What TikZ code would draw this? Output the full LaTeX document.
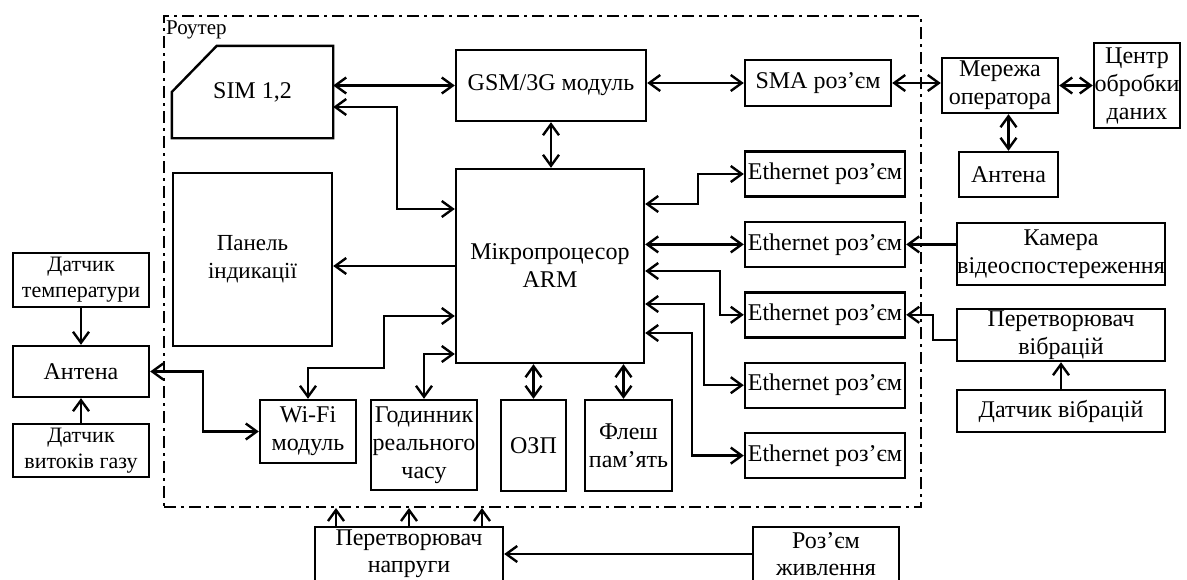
\documentclass[tikz,border=0pt]{standalone}
\usepackage{fontspec}
\setmainfont{Liberation Serif}
\usetikzlibrary{arrows.meta,positioning}
\tikzset{rozmir/.style n args={2}{minimum width=#1pt, minimum height=#2pt}}

\begin{document}
\begin{tikzpicture}[x=1pt, y=-1pt,
            node distance=23pt,
            blok/.style={draw, line width=2.4pt, inner sep=0pt, align=center, font=\fontsize{24}{28}\selectfont},
            ramka/.style={draw, line width=2pt, dash pattern=on 12pt off 5pt on 3pt off 5pt, inner sep=0pt},
            strilka/.style={-{Straight Barb[length=11pt,width=16pt]}, line width=2.4pt},
            dvi/.style={{Straight Barb[length=11pt,width=16pt]}-{Straight Barb[length=11pt,width=16pt]}, line width=2.4pt}
        ]
\useasboundingbox (0,0) rectangle (1187,579);

% рамка роутера
\node[ramka, rozmir={757}{491}] (router) at (542.5,261.5) {};
\node[anchor=north west, inner sep=0pt, font=\fontsize{21}{24}\selectfont] (routerlbl) at (166,21) {Роутер};

\node[blok, draw=none, rozmir={159}{90}] (sim) at (252.5,92) {SIM 1,2};
\draw[line width=2.4pt] (sim.south west) -- (sim.west) -- ([xshift=45pt]sim.north west) -- (sim.north east) -- (sim.south east) -- cycle;
\node[blok, rozmir={190}{71}] (gsm) at (551,85.5) {GSM/3G модуль};
\node[blok, rozmir={146}{46}] (sma) at (818,83) {SMA роз’єм};
\node[blok, rozmir={116}{55}] (merezha) at (1000,85.5) {Мережа\\оператора};
\node[blok, rozmir={86}{85}] (centr) at (1137,85.5) {Центр\\обробки\\даних};
\node[blok, rozmir={99}{45}] (antenaR) at (1008.5,174.5) {Антена};

\node[blok, rozmir={188}{194}] (arm) at (550,266) {Мікропроцесор\\ARM};
\node[blok, rozmir={159}{173}, font=\fontsize{23}{28}\selectfont] (panel) at (252.5,259.5) {Панель\\індикації};
\node[blok, rozmir={96}{63}] (wifi) at (308,431.5) {Wi-Fi\\модуль};
\node[blok, rozmir={106}{90}] (godynnyk) at (424,445) {Годинник\\реального\\часу};
\node[blok, rozmir={65}{91}] (ozp) at (533.5,445.5) {ОЗП};
\node[blok, rozmir={87}{91}] (flesh) at (628.5,445.5) {Флеш\\пам’ять};

\node[blok, rozmir={160}{45}] (eth1) at (825,174) {Ethernet роз’єм};
\node[blok, rozmir={160}{45}, below=of eth1] (eth2) {Ethernet роз’єм};
\node[blok, rozmir={160}{45}, below=of eth2] (eth3) {Ethernet роз’єм};
\node[blok, rozmir={160}{45}, below=of eth3] (eth4) {Ethernet роз’єм};
\node[blok, rozmir={160}{45}, below=of eth4] (eth5) {Ethernet роз’єм};

\node[blok, rozmir={208}{62}] (kamera) at (1061,254) {Камера\\відеоспостереження};
\node[blok, rozmir={208}{52}] (pvibr) at (1061,335) {Перетворювач\\вібрацій};
\node[blok, rozmir={208}{42}] (dvibr) at (1061,411) {Датчик вібрацій};

\node[blok, rozmir={136}{51}] (antenaL) at (81,371.5) {Антена};
\node[blok, rozmir={136}{54}, font=\fontsize{22}{26}\selectfont] (dtemp) at (81,280) {Датчик\\температури};
\node[blok, rozmir={136}{53}, font=\fontsize{22}{26}\selectfont] (dgaz) at (81,450.5) {Датчик\\витоків газу};

\node[blok, rozmir={188}{54}, font=\fontsize{24}{27}\selectfont] (pnapr) at (409,554) {Перетворювач\\напруги};
\node[blok, rozmir={146}{54}, font=\fontsize{24}{27}\selectfont] (rozem) at (826,554) {Роз’єм\\живлення};

% зв'язки
\draw[dvi] (sim.east |- gsm.west) -- (gsm.west);
\draw[dvi] (gsm.east |- sma.west) -- (sma.west);
\draw[dvi] (sma.east) -- (merezha.west |- sma.east);
\draw[dvi] (merezha.east) -- (centr.west |- merezha.east);
\draw[dvi] (antenaR.north |- merezha.south) -- (antenaR.north);
\draw[dvi] (gsm.south) -- (gsm.south |- arm.north);
\draw[dvi] ([yshift=-15pt]sim.east) -- ++(64,0) |- ([yshift=57pt]arm.west);
\draw[strilka] (arm.west) -- (arm.west -| panel.east);
\draw[dvi] ([yshift=-50pt]arm.west) -- ++(-71,0) -- ++(0,52) -| (wifi.north);
\draw[dvi] ([yshift=-88pt]arm.west) -| (godynnyk.north);
\draw[dvi] (arm.south -| ozp.north) -- (ozp.north);
\draw[dvi] ([xshift=-5pt]arm.south -| flesh.north) -- ([xshift=-5pt]flesh.north);
\draw[dvi] (antenaL.east) -- ++(53,0) |- (wifi.west);
\draw[strilka] (dtemp.south) -- (antenaL.north);
\draw[strilka] (dgaz.north) -- (antenaL.south);

\draw[dvi] ([yshift=62pt]arm.east) -- ++(53,0) |- (eth1.west);
\draw[dvi] (arm.east |- eth2.west) -- (eth2.west);
\draw[dvi] ([yshift=-5pt]arm.east) -- ++(75,0) |- (eth3.west);
\draw[dvi] ([yshift=-38pt]arm.east) -- ++(59,0) |- (eth4.west);
\draw[dvi] ([yshift=-67pt]arm.east) -- ++(47,0) |- (eth5.west);

\draw[strilka] (kamera.west |- eth2.east) -- (eth2.east);
\draw[strilka] ([yshift=-5pt]pvibr.west) -- ++(-23,0) |- (eth3.east);
\draw[strilka] (dvibr.north) -- (pvibr.south);

\draw[strilka] (rozem.west) -- (rozem.west -| pnapr.east);
\draw[strilka] ([xshift=-73pt]pnapr.north) -- ([xshift=-73pt]pnapr.north |- router.south);
\draw[strilka] (pnapr.north) -- (pnapr.north |- router.south);
\draw[strilka] ([xshift=73pt]pnapr.north) -- ([xshift=73pt]pnapr.north |- router.south);
        \end{tikzpicture}
\end{document}
